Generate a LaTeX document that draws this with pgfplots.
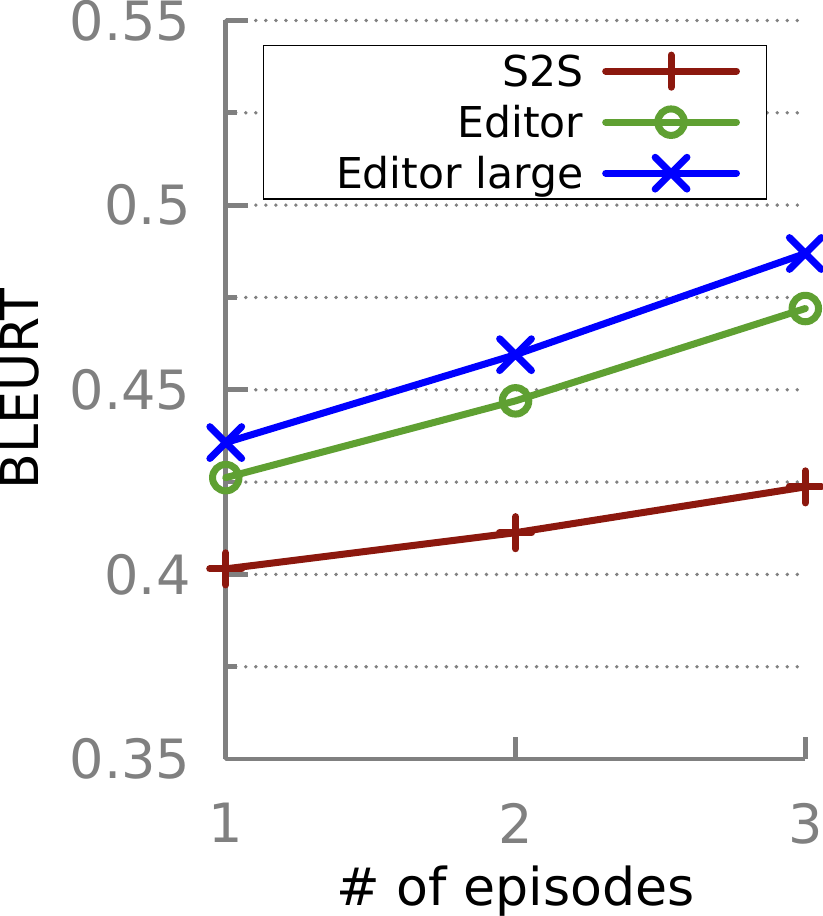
\documentclass[border=0pt]{standalone}
\usepackage{fontspec}
\setmainfont{DejaVu Sans}
\usepackage{pgfplots}
\pgfplotsset{compat=1.18}
\definecolor{s2s}{RGB}{140,24,14}
\definecolor{edit}{RGB}{95,160,50}
\definecolor{axgray}{RGB}{128,128,128}
\begin{document}
\begin{tikzpicture}
\begin{axis}[
  scale only axis, width=144.5pt, height=184.15pt,
  xmin=1, xmax=3, ymin=0.35, ymax=0.55,
  clip=false,
  axis lines*=left,
  axis line style={axgray, line width=1.2pt},
  xtick={1,2,3}, xticklabels={1,2,3},
  ytick={0.35,0.4,0.45,0.5,0.55}, yticklabels={0.35,0.4,0.45,0.5,0.55},
  minor ytick={0.375,0.425,0.475,0.525},
  tick align=inside,
  major tick length=5.5pt, minor tick length=2.75pt,
  tick style={axgray, line width=1.2pt},
  ymajorgrids, yminorgrids,
  major grid style={axgray, line width=0.95pt, line cap=round, dash pattern=on 0pt off 2.5pt},
  minor grid style={axgray, line width=0.95pt, line cap=round, dash pattern=on 0pt off 2.5pt},
  ticklabel style={font=\fontsize{13.5}{15}\selectfont, text=axgray},
  yticklabel style={inner sep=0pt, anchor=east, xshift=-8.6pt},
  xticklabel style={inner sep=0pt, anchor=north, yshift=-10.75pt},
  xlabel={\# of episodes}, ylabel={BLEURT},
  label style={font=\fontsize{13}{15}\selectfont},
  xlabel style={at={(axis description cs:0.5,-0.1978)}, anchor=base, inner sep=0pt},
  ylabel style={at={(axis description cs:-0.3213,0.501)}, anchor=south, inner sep=0pt},
  legend style={at={(axis description cs:0.9343,0.967)}, anchor=north east,
    draw=black, line width=0.4pt, inner xsep=6.6pt, inner ysep=0pt,
    column sep=4.75pt, row sep=0pt,
    font=\fontsize{10.6}{12}\selectfont,
    nodes={inner xsep=0pt, inner ysep=0pt, text height=10.23pt, text depth=2.49pt}},
  legend cell align=right, legend plot pos=right,
  legend image code/.code={\draw[mark repeat=2, mark phase=2] plot coordinates {(0pt,0pt) (16.3pt,0pt) (32.6pt,0pt)};},
]
\addplot[s2s, line width=1.75pt, line cap=round, mark=+, mark size=4pt, mark options={solid}]
  coordinates {(1,0.4015) (2,0.4113) (3,0.4237)};
\addlegendentry{S2S}
\addplot[edit, line width=1.75pt, line cap=round, mark=o, mark size=3.3pt, mark options={solid}]
  coordinates {(1,0.4262) (2,0.4470) (3,0.4720)};
\addlegendentry{Editor}
\addplot[blue, line width=1.75pt, line cap=round, mark=x, mark size=5.6pt, mark options={solid}]
  coordinates {(1,0.4357) (2,0.4595) (3,0.4869)};
\addlegendentry{\hspace*{11.5pt}Editor large}
\end{axis}
\end{tikzpicture}
\end{document}
